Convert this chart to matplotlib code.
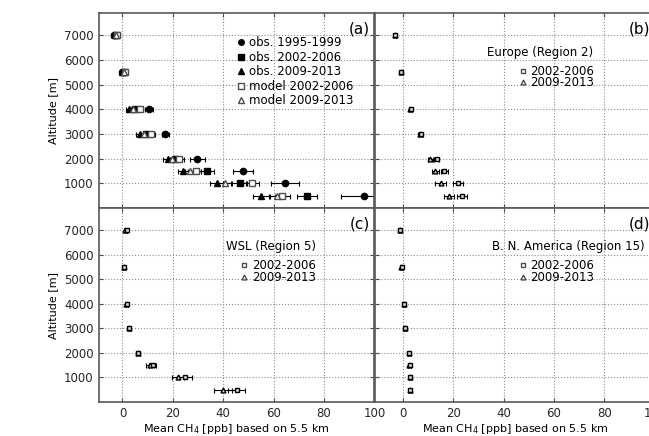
import numpy as np
import matplotlib
matplotlib.use("Agg")
import matplotlib.pyplot as plt
from matplotlib.lines import Line2D

# altitude levels [m]
alt = [7000, 5500, 4000, 3000, 2000, 1500, 1000, 500]

# (a) all data: observations and model
obs_9599 = [-3.5, 0.0, 10.5, 17.0, 29.7, 47.8, 64.5, 95.8]
obs_9599_err = [1.0, 1.0, 1.5, 1.5, 3.0, 4.0, 5.5, 9.0]
obs_0206 = [-2.5, 0.5, 5.0, 9.5, 21.0, 33.4, 46.6, 73.3]
obs_0206_err = [1.0, 1.0, 1.5, 1.5, 2.0, 3.0, 3.0, 4.0]
obs_0913 = [-3.0, 0.0, 2.5, 7.0, 18.0, 24.0, 37.4, 55.0]
obs_0913_err = [1.0, 1.0, 1.0, 1.5, 2.0, 2.0, 2.5, 3.0]
mod_0206 = [-2.0, 1.0, 7.0, 11.5, 22.5, 29.0, 51.5, 63.5]
mod_0206_err = [1.0, 1.0, 1.0, 1.5, 2.0, 2.0, 2.5, 3.0]
mod_0913 = [-2.5, 0.5, 4.0, 8.5, 19.5, 27.0, 40.5, 61.5]
mod_0913_err = [1.0, 1.0, 1.0, 1.5, 2.0, 2.0, 2.5, 3.0]

# (b) Europe (Region 2)
eu_0206 = [-3.0, -0.5, 3.2, 7.2, 13.5, 16.5, 22.0, 23.5]
eu_0913 = [-3.2, -0.5, 3.0, 6.8, 11.0, 13.0, 15.0, 18.5]
eu_err = [0.5, 0.5, 0.5, 0.7, 1.0, 1.5, 2.0, 2.0]

# (c) WSL (Region 5)
wsl_0206 = [1.8, 0.6, 1.8, 2.8, 6.3, 12.0, 25.0, 45.3]
wsl_0913 = [1.2, 0.5, 1.6, 2.6, 6.0, 11.0, 22.0, 40.0]
wsl_err = [0.5, 0.5, 0.5, 0.5, 0.8, 1.5, 2.5, 3.5]

# (d) B. N. America (Region 15)
bna_0206 = [-1.0, -0.4, 0.6, 0.9, 2.6, 2.7, 3.0, 3.0]
bna_0913 = [-1.2, -0.5, 0.4, 0.8, 2.4, 2.6, 2.8, 2.8]
bna_err = [0.4, 0.4, 0.4, 0.4, 0.5, 0.5, 0.5, 0.5]

plt.rcParams["font.size"] = 8.5

W, H = 649, 436
fig = plt.figure(figsize=(W / 100, H / 100), dpi=100)
pxu = 2.52  # px per ppb


def make_ax(x0, y_top, y_bot, xmin):
    width = (100 - xmin) * pxu
    return fig.add_axes([x0 / W, 1 - y_bot / H, width / W, (y_bot - y_top) / H]), xmin


axA, xa = make_ax(98.5, 13, 208, -9.5)
axB, xb = make_ax(375, 13, 208, -11)
axC, xc = make_ax(98.5, 208, 402, -9.5)
axD, xd = make_ax(375, 208, 402, -11)

ekw = dict(color="k", capsize=1.8, elinewidth=0.8, capthick=0.8, ls="none")


def mk(marker, ms, filled=True):
    return Line2D([], [], ls="none", marker=marker, ms=ms, color="k",
                  mfc="k" if filled else "white", mec="k" if filled else "0.3")


# panel (a)
axA.errorbar(obs_9599, alt, xerr=obs_9599_err, fmt="o", ms=4.5, **ekw)
axA.errorbar(obs_0206, alt, xerr=obs_0206_err, fmt="s", ms=4.5, **ekw)
axA.errorbar(obs_0913, alt, xerr=obs_0913_err, fmt="^", ms=4.5, **ekw)
axA.errorbar(mod_0206, alt, xerr=mod_0206_err, fmt="s", ms=4, mfc="white", mec="0.3", **ekw)
axA.errorbar(mod_0913, alt, xerr=mod_0913_err, fmt="^", ms=4, mfc="white", mec="0.3", **ekw)
handles = [mk("o", 4), mk("s", 4), mk("^", 4), mk("s", 4, False), mk("^", 4, False)]
labels = ["obs. 1995-1999", "obs. 2002-2006", "obs. 2009-2013",
          "model 2002-2006", "model 2009-2013"]
axA.legend(handles, labels, loc="upper left", bbox_to_anchor=(0.505, 0.88), frameon=False,
           borderpad=0, borderaxespad=0, handlelength=0.6, handletextpad=0.35,
           labelspacing=0.12, fontsize=8.5)

# panels (b)-(d): model only, per region
regions = [
    (axB, xb, eu_0206, eu_0913, eu_err, "Europe (Region 2)", 218, 0.795),
    (axC, xc, wsl_0206, wsl_0913, wsl_err, "WSL (Region 5)", 218, 0.80),
    (axD, xd, bna_0206, bna_0913, bna_err, "B. N. America (Region 15)", 270, 0.80),
]
for ax, xmin, s, t, e, title, tx, ty in regions:
    ax.errorbar(t, alt, xerr=e, fmt="^", ms=3.5, mfc="0.85", mec="k", **ekw)
    ax.errorbar(s, alt, xerr=e, fmt="s", ms=3.5, mfc="0.85", mec="k", **ekw)
    ax.legend([mk("s", 3.5, False), mk("^", 3.5, False)], ["2002-2006", "2009-2013"],
              loc="upper left", bbox_to_anchor=(0.515, 0.735), frameon=False,
              borderpad=0, borderaxespad=0, handlelength=0.6, handletextpad=0.35,
              labelspacing=-0.1, fontsize=8.5)
    ax.text(tx / ((100 - xmin) * pxu), ty, title, transform=ax.transAxes,
            ha="right", va="center", fontsize=8.5)

for ax, lab, xmin in [(axA, "(a)", xa), (axB, "(b)", xb), (axC, "(c)", xc), (axD, "(d)", xd)]:
    ax.set_xlim(xmin, 100)
    ax.set_ylim(0, 7900)
    ax.set_xticks([0, 20, 40, 60, 80, 100])
    ax.set_yticks([1000, 2000, 3000, 4000, 5000, 6000, 7000])
    ax.grid(True, ls=":", color="0.55", lw=0.8)
    ax.tick_params(direction="in", top=True, right=True, length=3, color="0.3",
                   labelsize=8.5, labelcolor="0.15")
    for sp in ax.spines.values():
        sp.set_color("0.35")
        sp.set_linewidth(1.2)
    ax.text(0.985, 0.955, lab, transform=ax.transAxes, ha="right", va="top", fontsize=11)

for ax in (axA, axB):
    ax.tick_params(labelbottom=False)
for ax in (axB, axD):
    ax.tick_params(labelleft=False)
for ax in (axA, axC):
    ax.set_ylabel("Altitude [m]", fontsize=8)
for ax in (axC, axD):
    ax.set_xlabel("Mean CH$_4$ [ppb] based on 5.5 km", fontsize=8, labelpad=1.5)

fig.savefig("out.png", dpi=100)
